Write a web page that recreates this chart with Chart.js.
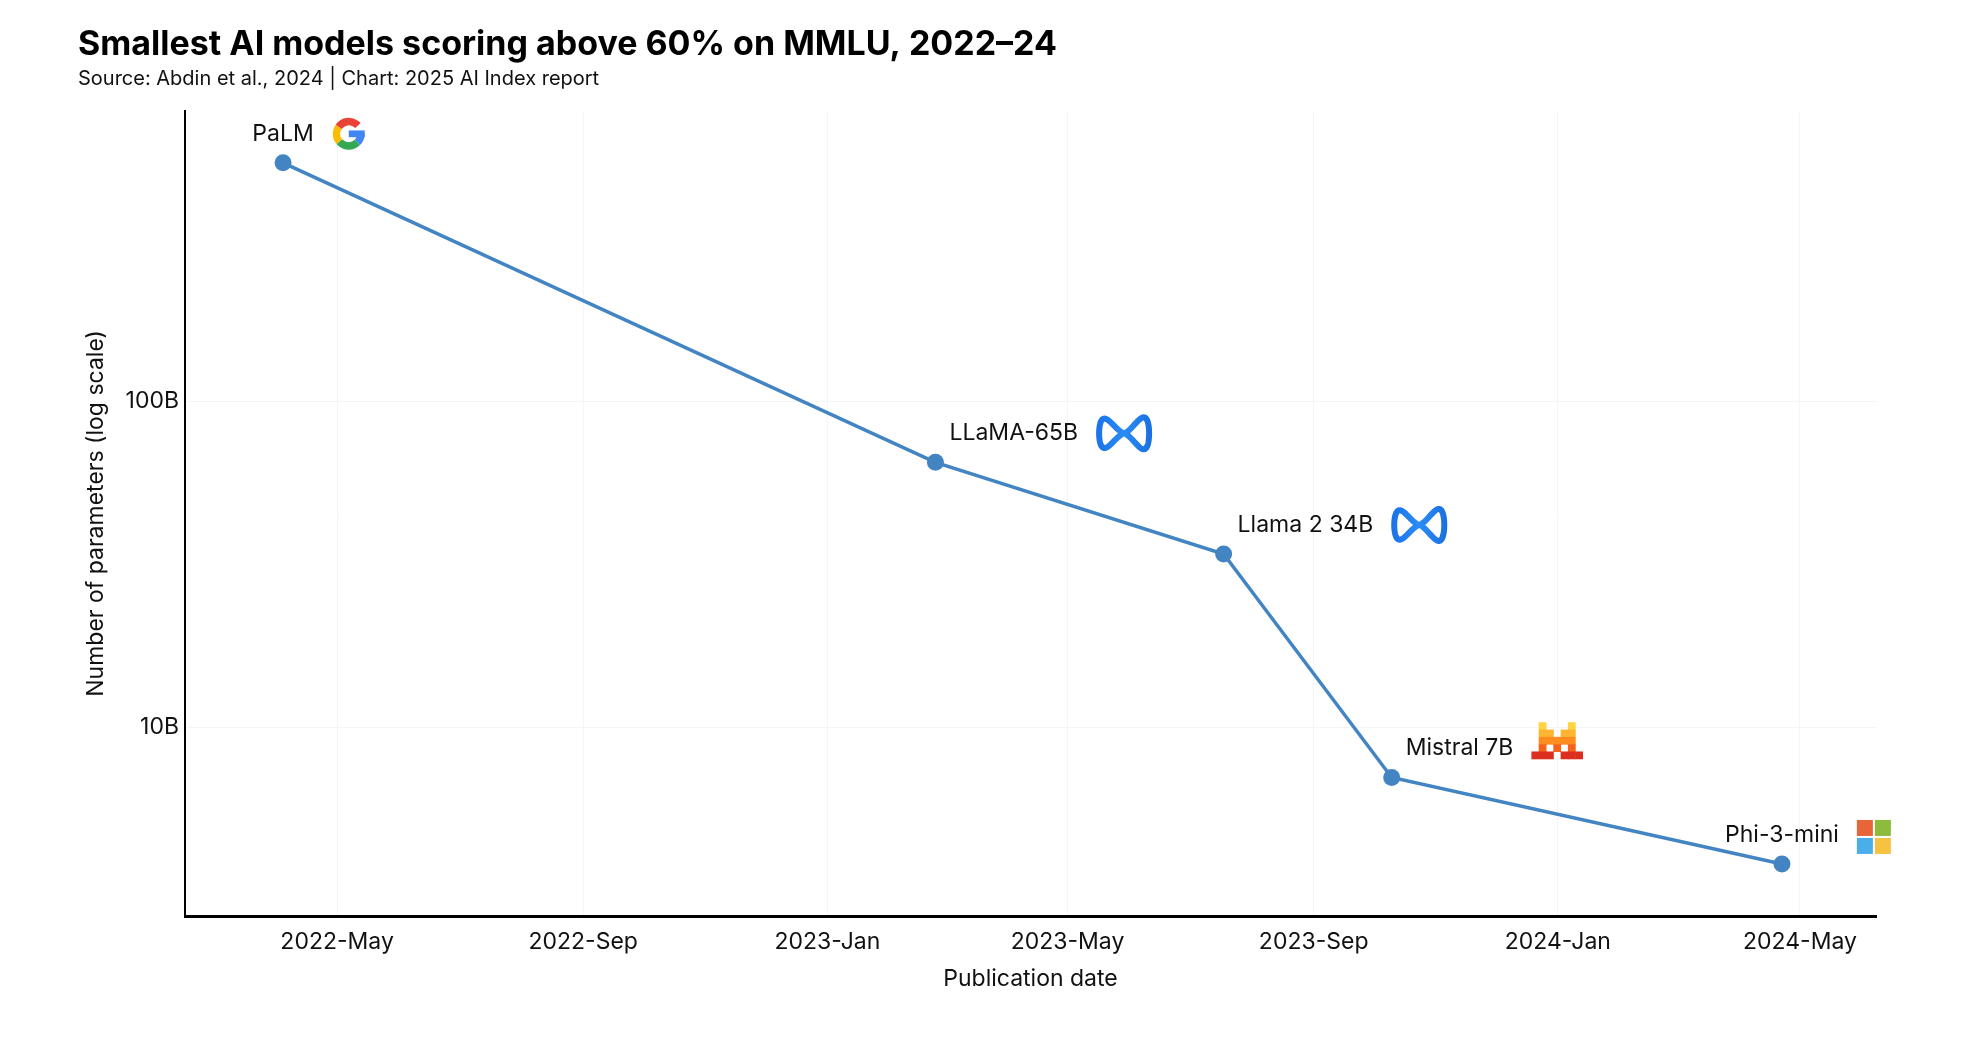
<!DOCTYPE html>
<html>
<head>
<meta charset="utf-8">
<script src="https://cdn.jsdelivr.net/npm/chart.js@4.4.1/dist/chart.umd.min.js"></script>
<style>
  html, body { margin: 0; padding: 0; background: #ffffff; }
  #wrap { width: 1964px; height: 1040px; position: relative; }
</style>
</head>
<body>
<div id="wrap"><canvas id="mmluChart"></canvas></div>
<script>
// data
const modelNames = ['PaLM', 'LLaMA-65B', 'Llama 2 34B', 'Mistral 7B', 'Phi-3-mini'];
const pubDates = ['2022-04-04', '2023-02-24', '2023-07-18', '2023-10-10', '2024-04-22'];
const paramCounts = [540e9, 65e9, 34e9, 7e9, 3.8e9];
const modelOrgs = ['google', 'meta', 'meta', 'mistral', 'microsoft'];

const xTickDates = ['2022-05-01', '2022-09-01', '2023-01-01', '2023-05-01', '2023-09-01', '2024-01-01', '2024-05-01'];
const xTickLabels = ['2022-May', '2022-Sep', '2023-Jan', '2023-May', '2023-Sep', '2024-Jan', '2024-May'];
const yTickValues = [1e10, 1e11];
const yTickLabels = ['10B', '100B'];

const toTime = (s) => Date.parse(s + 'T00:00:00Z');
const FONT = 'Inter, "Noto Sans", sans-serif';
const LINE_COLOR = '#4285c2';

// little logos drawn next to the labels
function drawGoogle(ctx, x, cy, s) {
    const r = s * 0.36, cx = x + s / 2;
    ctx.save();
    ctx.lineWidth = s * 0.22;
    ctx.lineCap = 'butt';
    const seg = (a0, a1, c) => {
        ctx.beginPath();
        ctx.strokeStyle = c;
        ctx.arc(cx, cy, r, a0 * Math.PI / 180, a1 * Math.PI / 180);
        ctx.stroke();
    };
    seg(0, 45, '#4285F4');
    seg(45, 140, '#34A853');
    seg(140, 215, '#FBBC05');
    seg(215, 318, '#EA4335');
    ctx.fillStyle = '#4285F4';
    ctx.fillRect(cx, cy - s * 0.1, r + s * 0.11, s * 0.2);
    ctx.restore();
}

function drawMeta(ctx, x, cy, w, h) {
    ctx.save();
    const grad = ctx.createLinearGradient(x, cy, x + w, cy);
    grad.addColorStop(0, '#1a72e8');
    grad.addColorStop(0.5, '#2a8cf5');
    grad.addColorStop(1, '#1a6fe0');
    ctx.strokeStyle = grad;
    ctx.lineWidth = 6;
    ctx.lineJoin = 'round';
    ctx.beginPath();
    const cx = x + w / 2, ax = w / 2 - 3, ay = h / 2 - 3;
    for (let k = 0; k <= 240; k++) {
        const t = (k / 240) * Math.PI * 2;
        const s = Math.sin(t);
        // rounder lobes than a plain figure eight
        const px = cx + ax * Math.sign(s) * Math.pow(Math.abs(s), 0.7);
        const py = cy - ay * Math.sin(2 * t) * (s > 0 ? 1 : 0.92);
        if (k === 0) ctx.moveTo(px, py); else ctx.lineTo(px, py);
    }
    ctx.closePath();
    ctx.stroke();
    ctx.restore();
}

function drawMistral(ctx, x, cy, u) {
    const rows = [
        { c: '#FFD23F', cols: [1, 5] },
        { c: '#FFB531', cols: [1, 2, 4, 5] },
        { c: '#FF8C1F', cols: [1, 2, 3, 4, 5] },
        { c: '#F5631A', cols: [1, 3, 5] },
        { c: '#DC2E1E', cols: [0, 1, 2, 4, 5, 6] }
    ];
    const top = cy - u * 2.5;
    ctx.save();
    rows.forEach((row, r) => {
        ctx.fillStyle = row.c;
        row.cols.forEach(col => ctx.fillRect(x + col * u, top + r * u, u + 0.5, u + 0.5));
    });
    ctx.restore();
}

function drawMicrosoft(ctx, x, cy, s) {
    const q = (s - 2) / 2, top = cy - s / 2;
    ctx.save();
    ctx.fillStyle = '#E8653A'; ctx.fillRect(x, top, q, q);
    ctx.fillStyle = '#8DBB3C'; ctx.fillRect(x + q + 2, top, q, q);
    ctx.fillStyle = '#4AAEE8'; ctx.fillRect(x, top + q + 2, q, q);
    ctx.fillStyle = '#F5C242'; ctx.fillRect(x + q + 2, top + q + 2, q, q);
    ctx.restore();
}

const pointLabels = {
    id: 'pointLabels',
    afterDatasetsDraw(chart) {
        const ctx = chart.ctx;
        const meta = chart.getDatasetMeta(0);
        ctx.save();
        ctx.font = '23px ' + FONT;
        ctx.fillStyle = '#111111';
        ctx.textBaseline = 'middle';
        meta.data.forEach((pt, i) => {
            const name = modelNames[i];
            const w = ctx.measureText(name).width;
            const centered = (i === 0 || i === modelNames.length - 1);
            const left = centered ? pt.x - w / 2 : pt.x + 14;
            const y = pt.y - 29;
            ctx.textAlign = 'left';
            ctx.fillText(name, left, y);
            const lx = left + w + 18;
            const org = modelOrgs[i];
            if (org === 'google') drawGoogle(ctx, lx, y, 34);
            else if (org === 'meta') drawMeta(ctx, lx, y, 56, 38);
            else if (org === 'mistral') drawMistral(ctx, lx, y - 8, 7.3);
            else if (org === 'microsoft') drawMicrosoft(ctx, lx, y + 2, 34);
        });
        ctx.restore();
    }
};

const chart = new Chart(document.getElementById('mmluChart'), {
    type: 'line',
    data: {
        datasets: [{
            label: 'Parameters',
            data: pubDates.map((d, i) => ({ x: toTime(d), y: paramCounts[i] })),
            borderColor: LINE_COLOR,
            backgroundColor: LINE_COLOR,
            borderWidth: 3.5,
            pointRadius: 8.5,
            pointHoverRadius: 8.5,
            pointBorderWidth: 0,
            tension: 0
        }]
    },
    options: {
        responsive: true,
        maintainAspectRatio: false,
        animation: false,
        devicePixelRatio: 1,
        layout: {
            padding: { left: 78, right: 88, top: 0, bottom: 43 }
        },
        scales: {
            x: {
                type: 'linear',
                min: toTime('2022-02-14'),
                max: toTime('2024-06-08'),
                afterBuildTicks: (scale) => {
                    scale.ticks = xTickDates.map(d => ({ value: toTime(d) }));
                },
                afterFit: (scale) => { scale.height = 81; },
                ticks: {
                    autoSkip: false,
                    maxRotation: 0,
                    padding: 12,
                    color: '#111111',
                    font: { family: FONT, size: 23 },
                    callback: (value) => {
                        const idx = xTickDates.findIndex(d => toTime(d) === value);
                        return idx >= 0 ? xTickLabels[idx] : '';
                    }
                },
                grid: { color: '#f5f5f5', lineWidth: 1, drawTicks: false },
                border: { color: '#000000', width: 3 },
                title: {
                    display: true,
                    text: 'Publication date',
                    color: '#111111',
                    font: { family: FONT, size: 23 },
                    padding: { top: 4, bottom: 4 }
                }
            },
            y: {
                type: 'logarithmic',
                min: 2.63e9,
                max: 7.8e11,
                afterBuildTicks: (scale) => {
                    scale.ticks = yTickValues.map(v => ({ value: v }));
                },
                afterFit: (scale) => { scale.width = 107; },
                ticks: {
                    autoSkip: false,
                    padding: 6,
                    color: '#111111',
                    font: { family: FONT, size: 23 },
                    callback: (value) => {
                        const idx = yTickValues.indexOf(value);
                        return idx >= 0 ? yTickLabels[idx] : '';
                    }
                },
                grid: { color: '#f5f5f5', lineWidth: 1, drawTicks: false },
                border: { color: '#000000', width: 2 },
                title: {
                    display: true,
                    text: 'Number of parameters (log scale)',
                    color: '#111111',
                    font: { family: FONT, size: 23 },
                    padding: { top: 4, bottom: 4 }
                }
            }
        },
        plugins: {
            legend: { display: false },
            tooltip: { enabled: false },
            title: {
                display: true,
                text: 'Smallest AI models scoring above 60% on MMLU, 2022–24',
                align: 'start',
                color: '#000000',
                font: { family: FONT, size: 34, weight: 'bold' },
                padding: { top: 24, bottom: 2 }
            },
            subtitle: {
                display: true,
                text: 'Source: Abdin et al., 2024 | Chart: 2025 AI Index report',
                align: 'start',
                color: '#111111',
                font: { family: FONT, size: 20 },
                padding: { top: 0, bottom: 20 }
            }
        }
    },
    plugins: [pointLabels]
});
</script>
</body>
</html>
